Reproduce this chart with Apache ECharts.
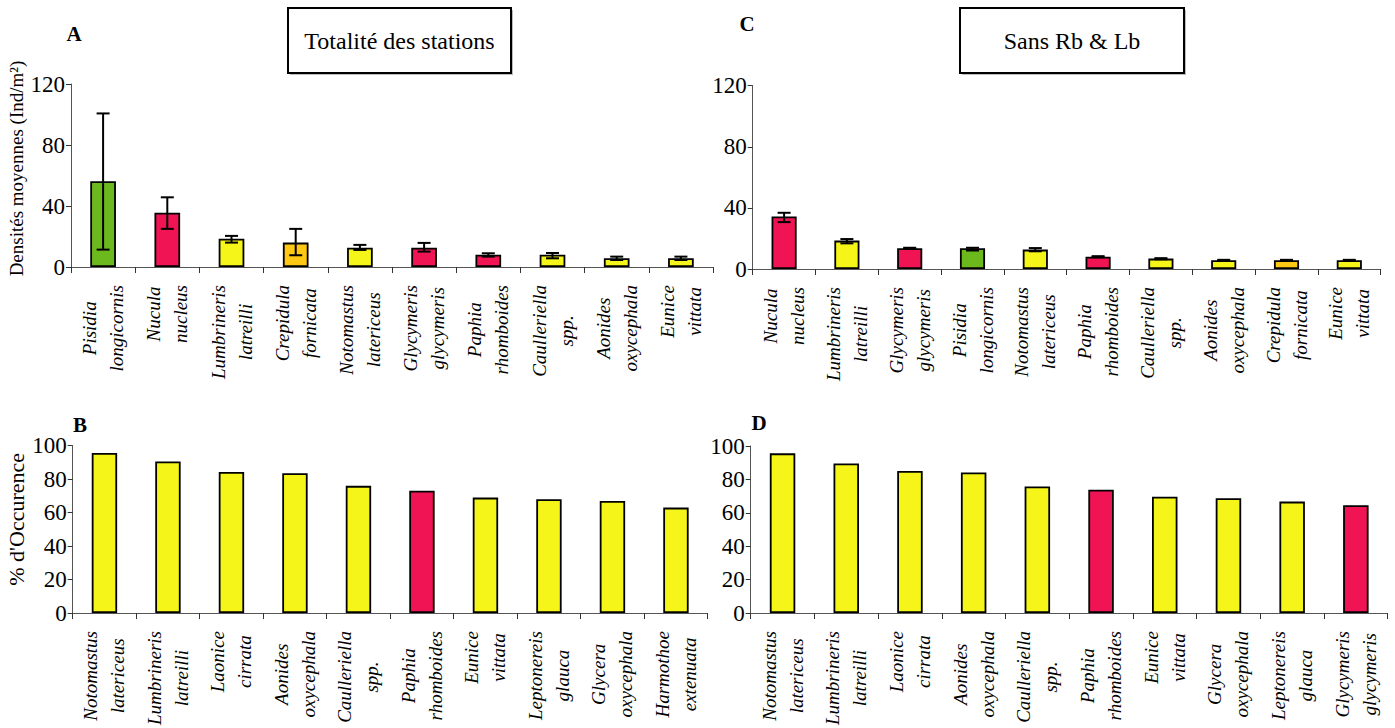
<!DOCTYPE html>
<html>
<head>
<meta charset="utf-8">
<script src="https://cdn.jsdelivr.net/npm/echarts@6/dist/echarts.min.js"></script>
<style>
html,body{margin:0;padding:0;background:#fff;}
#chart{width:1395px;height:728px;}
</style>
</head>
<body>
<div id="chart"></div>
<script>
// ---------- DATA ----------
const speciesA = ['Pisidia longicornis','Nucula nucleus','Lumbrineris latreilli','Crepidula fornicata','Notomastus latericeus','Glycymeris glycymeris','Paphia rhomboides','Caulleriella spp.','Aonides oxycephala','Eunice vittata'];
const densA    = [56.2, 35.6, 18.5, 16.0, 12.7, 12.7, 8.1, 8.1, 5.7, 5.7];
const errLowA  = [11.4, 25.0, 16.0, 7.7, 11.2, 10.1, 6.8, 5.7, 4.6, 4.6];
const errHighA = [100.7, 45.7, 20.4, 25.0, 14.5, 15.8, 9.0, 9.2, 6.8, 6.8];
const groupA   = ['g','r','y','o','y','r','r','y','y','y'];

const speciesC = ['Nucula nucleus','Lumbrineris latreilli','Glycymeris glycymeris','Pisidia longicornis','Notomastus latericeus','Paphia rhomboides','Caulleriella spp.','Aonides oxycephala','Crepidula fornicata','Eunice vittata'];
const densC    = [34.4, 18.6, 13.6, 13.6, 12.7, 8.1, 6.8, 5.7, 5.7, 5.7];
const errLowC  = [30.7, 16.8, 13.3, 12.1, 11.6, 7.7, 6.4, 5.4, 5.4, 5.4];
const errHighC = [36.8, 19.6, 13.9, 13.9, 13.7, 8.4, 7.1, 6.0, 6.0, 6.0];
const groupC   = ['r','y','r','g','y','r','y','y','o','y'];

const speciesB = ['Notomastus latericeus','Lumbrineris latreilli','Laonice cirrata','Aonides oxycephala','Caulleriella spp.','Paphia rhomboides','Eunice vittata','Leptonereis glauca','Glycera oxycephala','Harmothoe extenuata'];
const occB     = [95.7, 90.6, 84.3, 83.5, 76.0, 73.1, 69.0, 68.0, 67.0, 63.0];
const groupB   = ['y','y','y','y','y','r','y','y','y','y'];

const speciesD = ['Notomastus latericeus','Lumbrineris latreilli','Laonice cirrata','Aonides oxycephala','Caulleriella spp.','Paphia rhomboides','Eunice vittata','Glycera oxycephala','Leptonereis glauca','Glycymeris glycymeris'];
const occD     = [95.6, 89.5, 85.1, 84.1, 75.8, 73.8, 69.6, 68.7, 66.7, 64.5];
const groupD   = ['y','y','y','y','y','r','y','y','y','r'];

const ticksDens = [0, 40, 80, 120];
const ticksOcc  = [0, 20, 40, 60, 80, 100];

// ---------- STYLE ----------
const palette = { g: '#6cb91e', r: '#f01455', y: '#f5f51a', o: '#ffc814' };
const SERIF = 'Liberation Serif, Times New Roman, serif';

const chart = echarts.init(document.getElementById('chart'), null, { renderer: 'svg' });

const grids = [
  { left: 71,    top: 84,    width: 642, height: 183 },   // A
  { left: 752.7, top: 85.7,  width: 628, height: 183.3 }, // C
  { left: 72.7,  top: 445.7, width: 635, height: 168.3 }, // B
  { left: 750.7, top: 446,   width: 637, height: 168 }    // D
];

function labelFmt(v) {
  const i = v.indexOf(' ');
  const a = v.slice(0, i), b = v.slice(i + 1);
  return '{t|' + a + '}\n{t|' + b + '}';
}

function xAxis(gi, cats) {
  return {
    type: 'category', gridIndex: gi, data: cats,
    axisLine: { lineStyle: { color: '#555', width: 1 } },
    axisTick: { show: true, length: 6, interval: 0, lineStyle: { color: '#333' } },
    axisLabel: {
      interval: 0, rotate: 90, margin: 18, formatter: labelFmt,
      rich: { t: { fontFamily: SERIF, fontStyle: 'italic', fontSize: 19, color: '#000', lineHeight: 27, align: 'center' } }
    }
  };
}

function yAxis(gi, ticks, name, nameSize, shift) {
  return {
    type: 'value', gridIndex: gi, min: ticks[0], max: ticks[ticks.length - 1],
    interval: ticks[1] - ticks[0],
    name: name || '', nameLocation: 'middle', nameRotate: 90, nameGap: 45,
    nameTextStyle: { fontFamily: SERIF, fontSize: nameSize || 19, color: '#000', padding: [0, 0, 0, shift || 0] },
    axisLine: { show: true, lineStyle: { color: '#555', width: 1 } },
    axisTick: { show: true, length: 5, lineStyle: { color: '#333' } },
    splitLine: { show: false },
    axisLabel: { fontFamily: SERIF, fontSize: 23, color: '#000', margin: 6 }
  };
}

function barSeries(idx, vals, groups) {
  return {
    type: 'bar', xAxisIndex: idx, yAxisIndex: idx, barWidth: '40%',
    data: vals.map((v, i) => ({ value: v, itemStyle: { color: palette[groups[i]] } })),
    itemStyle: { borderColor: '#000', borderWidth: 1.8 },
    emphasis: { disabled: true }, animation: false
  };
}

function errSeries(idx, lo, hi) {
  return {
    type: 'custom', xAxisIndex: idx, yAxisIndex: idx, z: 5,
    data: lo.map((l, i) => [i, l, hi[i]]),
    renderItem: function (params, api) {
      const x = api.value(0);
      const p1 = api.coord([x, api.value(1)]);
      const p2 = api.coord([x, api.value(2)]);
      const w = 6.5;
      const st = { stroke: '#000', lineWidth: 2 };
      return {
        type: 'group', children: [
          { type: 'line', shape: { x1: p1[0], y1: p1[1], x2: p2[0], y2: p2[1] }, style: st },
          { type: 'line', shape: { x1: p1[0] - w, y1: p1[1], x2: p1[0] + w, y2: p1[1] }, style: st },
          { type: 'line', shape: { x1: p2[0] - w, y1: p2[1], x2: p2[0] + w, y2: p2[1] }, style: st }
        ]
      };
    },
    animation: false
  };
}

function box(x, y, w, h, text) {
  return {
    type: 'group', children: [
      { type: 'rect', shape: { x: x + 2, y: y + 2, width: w, height: h }, style: { fill: '#bbb' } },
      { type: 'rect', shape: { x: x, y: y, width: w, height: h }, style: { fill: '#fff', stroke: '#000', lineWidth: 2 } },
      { type: 'text', x: x + w / 2, y: y + h / 2, style: { text: text, fontFamily: SERIF, fontSize: 24, fill: '#000', align: 'center', verticalAlign: 'middle' } }
    ]
  };
}

function letter(x, y, t) {
  return { type: 'text', x: x, y: y, style: { text: t, fontFamily: SERIF, fontWeight: 'bold', fontSize: 21, fill: '#000', align: 'center', verticalAlign: 'middle' } };
}

chart.setOption({
  animation: false,
  backgroundColor: '#fff',
  grid: grids,
  xAxis: [xAxis(0, speciesA), xAxis(1, speciesC), xAxis(2, speciesB), xAxis(3, speciesD)],
  yAxis: [
    yAxis(0, ticksDens, 'Densités moyennes (Ind/m²)', 19, 14),
    yAxis(1, ticksDens),
    yAxis(2, ticksOcc, "% d'Occurence", 22, 20),
    yAxis(3, ticksOcc)
  ],
  series: [
    barSeries(0, densA, groupA), errSeries(0, errLowA, errHighA),
    barSeries(1, densC, groupC), errSeries(1, errLowC, errHighC),
    barSeries(2, occB, groupB),
    barSeries(3, occD, groupD)
  ],
  graphic: [
    box(288, 8, 223, 65, 'Totalité des stations'),
    box(960, 8, 224, 65, 'Sans Rb & Lb'),
    letter(74, 34, 'A'),
    letter(747, 24, 'C'),
    letter(80, 425, 'B'),
    letter(759, 423, 'D')
  ]
});
</script>
</body>
</html>
